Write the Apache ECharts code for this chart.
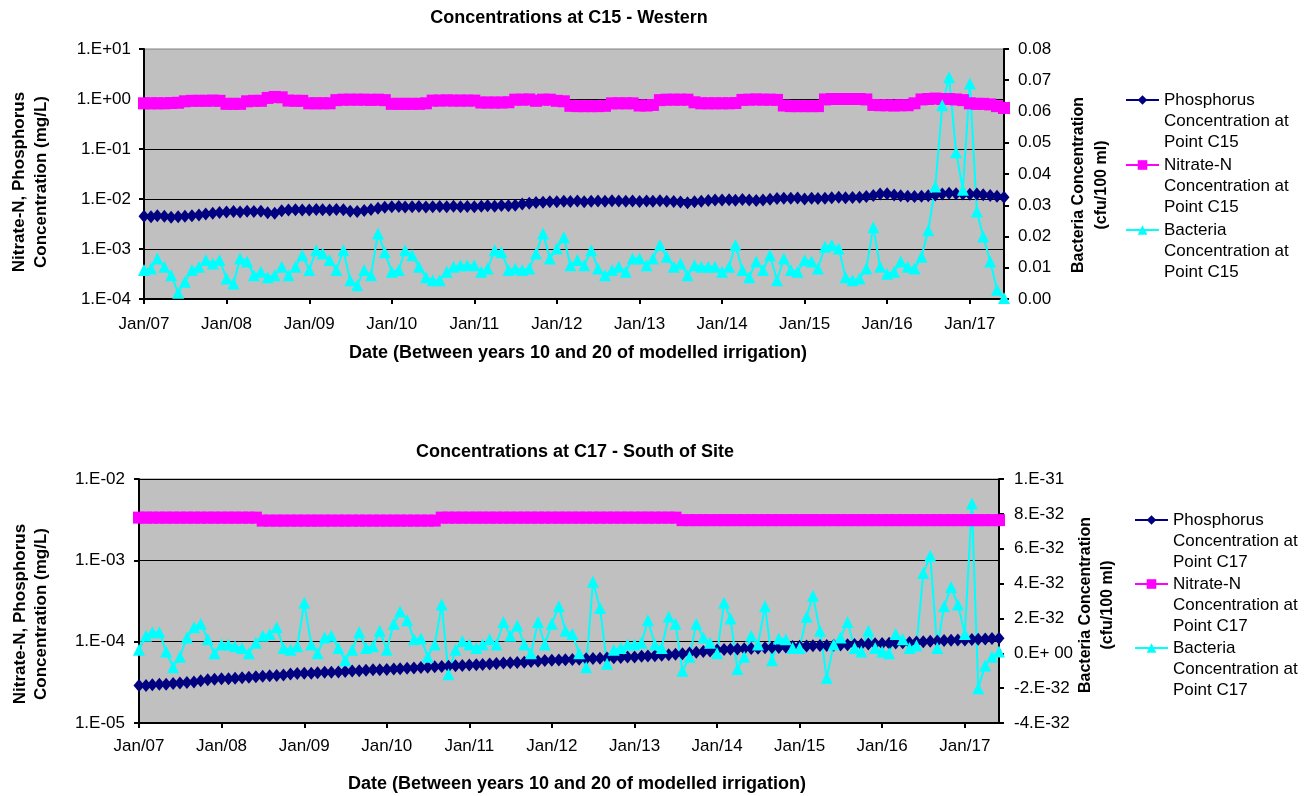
<!DOCTYPE html>
<html>
<head>
<meta charset="utf-8">
<title>Concentrations at C15 and C17</title>
<script src="https://cdn.jsdelivr.net/npm/echarts@6/dist/echarts.min.js"></script>
<style>
  html, body { margin: 0; background: #fff; }
  #chart { width: 1308px; height: 796px; }
</style>
</head>
<body>
<div id="chart"></div>
<script>
// monthly sample dates, Jan 2007 .. Jun 2017
const months = []
for (let y = 2007; y <= 2017; y++) {
  for (let m = 1; m <= 12; m++) {
    if (y === 2017 && m > 6) break
    months.push(y + '-' + String(m).padStart(2, '0') + '-01')
  }
}

// C15 - Western
// phosphorus, units of 1e-3 mg/L
const phosC15 = [
  4.5, 4.4, 4.6, 4.5, 4.3, 4.4, 4.5, 4.6, 4.8, 5.0, 5.2, 5.4,
  5.5, 5.6, 5.5, 5.7, 5.6, 5.7, 5.3, 5.2, 5.8, 6.0, 6.1, 6.0,
  6.0, 6.2, 6.1, 6.0, 6.2, 6.1, 5.7, 5.6, 5.9, 6.2, 6.5, 6.8,
  7.0, 7.1, 6.9, 7.0, 7.1, 6.9, 7.0, 7.1, 7.0, 7.2, 7.0, 7.1,
  7.0, 7.2, 7.3, 7.2, 7.4, 7.3, 7.5, 7.9, 8.2, 8.5, 8.6, 8.8,
  8.8, 9.0, 8.9, 9.1, 8.8, 9.0, 9.1, 9.0, 9.2, 9.1, 9.0, 9.1,
  8.9, 9.1, 9.0, 9.2, 9.0, 8.9, 8.7, 8.4, 8.8, 9.0, 9.3, 9.6,
  9.5, 9.7, 9.4, 9.8, 9.6, 9.3, 9.5, 9.9, 10.2, 10.4, 10.3, 10.5,
  10.0, 10.3, 10.2, 10.4, 10.6, 10.8, 10.6, 10.7, 10.9, 11.2, 11.8, 12.6,
  12.8, 12.0, 11.6, 11.4, 11.2, 11.4, 11.6, 12.0, 12.6, 13.0, 12.8, 12.6,
  12.4, 12.6, 12.2, 11.8, 11.3, 10.8
]
// nitrate-N, mg/L
const nitC15 = [
  0.82, 0.82, 0.82, 0.82, 0.83, 0.84, 0.90, 0.92, 0.92, 0.92, 0.93, 0.92,
  0.80, 0.80, 0.80, 0.90, 0.92, 0.92, 1.05, 1.10, 1.08, 0.93, 0.92, 0.92,
  0.82, 0.82, 0.82, 0.82, 0.95, 0.97, 0.97, 0.97, 0.97, 0.96, 0.97, 0.95,
  0.80, 0.80, 0.80, 0.80, 0.80, 0.82, 0.93, 0.93, 0.94, 0.93, 0.93, 0.93,
  0.93, 0.85, 0.85, 0.85, 0.85, 0.86, 0.97, 0.97, 0.98, 0.92, 0.97, 0.97,
  0.92, 0.90, 0.73, 0.72, 0.72, 0.72, 0.72, 0.73, 0.82, 0.82, 0.82, 0.82,
  0.74, 0.74, 0.76, 0.95, 0.97, 0.97, 0.97, 0.97, 0.86, 0.82, 0.82, 0.82,
  0.82, 0.82, 0.83, 0.96, 0.97, 0.98, 0.97, 0.97, 0.96, 0.74, 0.72, 0.72,
  0.72, 0.72, 0.72, 0.98, 1.00, 1.00, 1.00, 1.00, 1.00, 0.98, 0.76, 0.75,
  0.75, 0.74, 0.75, 0.75, 0.82, 0.98, 1.00, 1.02, 1.00, 1.00, 0.98, 0.95,
  0.82, 0.80, 0.80, 0.78, 0.72, 0.66
]
// bacteria, units of 1e-3 cfu/100 ml
const bactC15 = [
  9.3, 9.8, 13, 10.3, 7.6, 2.0, 5.5, 9.3, 10.3, 12.5, 11.4, 12.5,
  6.6, 5.0, 13, 12, 7.6, 8.7, 7.0, 7.6, 10.3, 7.6, 10.3, 14,
  9.3, 15.6, 14.6, 12.5, 9.3, 15.6, 6.0, 4.4, 9.3, 7.6, 21, 15,
  8.7, 9.3, 15.6, 14, 10.3, 7.0, 6.0, 6.0, 8.7, 10.3, 10.8, 10.8,
  10.8, 8.7, 9.8, 15.6, 15, 9.3, 9.8, 9.3, 9.8, 14.6, 21, 13,
  16.2, 19.8, 10.8, 12.5, 10.8, 15.6, 9.8, 7.6, 9.3, 10.3, 8.7, 13,
  13, 10.8, 13, 17.3, 13.5, 10.3, 11.4, 7.6, 10.8, 10.3, 10.3, 10.3,
  8.7, 10.3, 17.3, 9.3, 7.0, 12, 9.3, 14, 6.0, 13, 9.3, 8.7,
  12.5, 12, 9.8, 16.7, 17.3, 16.2, 7.0, 6.0, 6.6, 9.8, 23, 10.3,
  8.1, 8.7, 12, 10.3, 9.8, 13.5, 22, 36, 62, 71, 47, 35,
  69, 28, 20, 12, 3.0, 0.3
]

// C17 - South of Site
// phosphorus, units of 1e-5 mg/L
const phosC17 = [
  2.9, 2.9, 2.95, 3.0, 3.0, 3.05, 3.1, 3.15, 3.2, 3.3, 3.4, 3.45,
  3.5, 3.5, 3.55, 3.6, 3.65, 3.7, 3.75, 3.8, 3.85, 3.9, 4.0, 4.05,
  4.1, 4.1, 4.15, 4.2, 4.2, 4.25, 4.3, 4.35, 4.4, 4.45, 4.5, 4.5,
  4.55, 4.6, 4.65, 4.7, 4.75, 4.8, 4.85, 4.9, 4.95, 5.0, 5.05, 5.1,
  5.15, 5.2, 5.25, 5.3, 5.4, 5.45, 5.5, 5.55, 5.6, 5.7, 5.75, 5.85,
  5.9, 5.95, 6.0, 6.05, 6.1, 6.15, 6.2, 6.25, 6.3, 6.35, 6.4, 6.5,
  6.5, 6.6, 6.65, 6.7, 6.8, 6.9, 7.0, 7.1, 7.25, 7.4, 7.55, 7.7,
  7.9, 8.0, 8.05, 8.1, 8.2, 8.25, 8.3, 8.4, 8.45, 8.5, 8.6, 8.7,
  8.8, 8.85, 8.9, 8.95, 9.0, 9.05, 9.1, 9.15, 9.2, 9.3, 9.35, 9.4,
  9.5, 9.55, 9.6, 9.7, 9.8, 9.9, 10.0, 10.1, 10.2, 10.3, 10.4, 10.45,
  10.5, 10.6, 10.7, 10.8, 10.9, 11.0
]
// nitrate-N, units of 1e-3 mg/L
const nitC17 = [
  3.35, 3.35, 3.35, 3.35, 3.35, 3.35, 3.35, 3.35, 3.35, 3.35, 3.35, 3.35,
  3.35, 3.35, 3.35, 3.35, 3.35, 3.35, 3.08, 3.08, 3.08, 3.08, 3.08, 3.08,
  3.08, 3.08, 3.08, 3.08, 3.08, 3.08, 3.08, 3.08, 3.08, 3.08, 3.08, 3.08,
  3.08, 3.08, 3.08, 3.08, 3.08, 3.08, 3.08, 3.08, 3.35, 3.35, 3.35, 3.35,
  3.35, 3.35, 3.35, 3.35, 3.35, 3.35, 3.35, 3.35, 3.35, 3.35, 3.35, 3.35,
  3.35, 3.35, 3.35, 3.35, 3.35, 3.35, 3.35, 3.35, 3.35, 3.35, 3.35, 3.35,
  3.35, 3.35, 3.35, 3.35, 3.35, 3.35, 3.35, 3.12, 3.12, 3.12, 3.12, 3.12,
  3.12, 3.12, 3.12, 3.12, 3.12, 3.12, 3.12, 3.12, 3.12, 3.12, 3.12, 3.12,
  3.12, 3.12, 3.12, 3.12, 3.12, 3.12, 3.12, 3.12, 3.12, 3.12, 3.12, 3.12,
  3.12, 3.12, 3.12, 3.12, 3.12, 3.12, 3.12, 3.12, 3.12, 3.12, 3.12, 3.12,
  3.12, 3.12, 3.12, 3.12, 3.12, 3.12
]
// bacteria, units of 1e-32 cfu/100 ml
const bactC17 = [
  0.2, 1.0, 1.2, 1.2, 0.1, -0.8, -0.2, 0.9, 1.5, 1.7, 0.8, 0.0,
  0.5, 0.5, 0.4, 0.3, 0.0, 0.6, 1.0, 1.1, 1.5, 0.3, 0.2, 0.4,
  2.9, 0.5, 0.0, 0.9, 1.0, 0.3, -0.4, 0.2, 1.2, 0.3, 0.4, 1.3,
  0.2, 1.7, 2.4, 1.9, 0.8, 0.85, -0.2, 0.5, 2.8, -1.2, 0.2, 0.7,
  0.5, 0.3, 0.5, 0.8, 0.5, 1.8, 1.0, 1.6, 0.5, 0.0, 1.8, 0.5,
  1.7, 2.7, 1.3, 1.1, 0.0, -0.8, 4.1, 2.6, -0.6, 0.2, 0.3, 0.5,
  0.5, 0.6, 1.9, 0.5, 0.3, 2.1, 1.7, -1.0, -0.2, 1.7, 0.9, 0.6,
  0.0, 2.9, 2.0, -0.9, -0.2, 1.0, 0.5, 2.7, -0.4, 0.85, 0.8, 0.3,
  0.3, 2.1, 3.3, 1.3, -1.4, 0.5, 0.9, 1.8, 0.3, 0.1, 1.3, 0.3,
  0.1, 0.0, 1.1, 0.8, 0.3, 0.45, 4.6, 5.6, 0.3, 2.7, 3.8, 2.8,
  1.1, 8.6, -2.0, -0.7, -0.2, 0.1
]

const FONT = '"Liberation Sans", Arial, sans-serif'
const NAVY = '#000080'
const PINK = '#ff00ff'
const CYAN = '#00ffff'
const YEAR = 365 * 24 * 3600 * 1000

const pairs = (vals, scale) => months.map((d, i) => [d, vals[i] * scale])

const logLabel = (v) => {
  const e = Math.round(Math.log10(v))
  return '1.E' + (e < 0 ? '-' : '+') + String(Math.abs(e)).padStart(2, '0')
}
const c17Label = (v) => {
  const n = Math.round(v)
  if (n === 0) return '0.E+ 00'
  if (n === 10) return '1.E-31'
  return n + '.E-32'
}

const xAxisOf = (gridIndex, margin) => ({
  gridIndex,
  type: 'time',
  min: '2007-01-01',
  max: '2017-06-01',
  minInterval: YEAR,
  maxInterval: YEAR + 24 * 3600 * 1000,
  axisLine: { onZero: false, lineStyle: { color: '#000', width: 2 } },
  axisTick: { length: 5, lineStyle: { color: '#000', width: 2 } },
  axisLabel: {
    color: '#000',
    fontSize: 17,
    fontFamily: FONT,
    margin,
    showMaxLabel: false,
    formatter: (v) => 'Jan/' + String(new Date(v).getFullYear()).slice(2),
  },
  splitLine: { show: false },
})

const leftAxisOf = (gridIndex, min, max, splitNumber, margin) => ({
  gridIndex,
  type: 'log',
  logBase: 10,
  min,
  max,
  splitNumber,
  position: 'left',
  axisLine: { show: true, lineStyle: { color: '#000', width: 2 } },
  axisTick: { show: true, length: 5, lineStyle: { color: '#000', width: 2 } },
  axisLabel: { color: '#000', fontSize: 17, fontFamily: FONT, margin, formatter: logLabel },
  splitLine: { show: true, showMaxLine: false, lineStyle: { color: '#000', width: 1 } },
})

const rightAxisOf = (gridIndex, min, max, interval, margin, formatter) => ({
  gridIndex,
  type: 'value',
  min,
  max,
  interval,
  position: 'right',
  axisLine: { show: true, onZero: false, lineStyle: { color: '#000', width: 2 } },
  axisTick: { show: true, length: 5, lineStyle: { color: '#000', width: 2 } },
  axisLabel: { color: '#000', fontSize: 17, fontFamily: FONT, margin, formatter },
  splitLine: { show: false },
})

const lineOf = (name, xi, yi, data, color, symbol, symbolSize) => ({
  name,
  type: 'line',
  xAxisIndex: xi,
  yAxisIndex: yi,
  data,
  symbol,
  symbolSize,
  showSymbol: true,
  showAllSymbol: true,
  color,
  lineStyle: { color, width: 2 },
  itemStyle: { color },
  emphasis: { disabled: true },
})

const N = {
  p15: 'Phosphorus\nConcentration at\nPoint C15',
  n15: 'Nitrate-N\nConcentration at\nPoint C15',
  b15: 'Bacteria\nConcentration at\nPoint C15',
  p17: 'Phosphorus\nConcentration at\nPoint C17',
  n17: 'Nitrate-N\nConcentration at\nPoint C17',
  b17: 'Bacteria\nConcentration at\nPoint C17',
}

// two blank lines on top so the icon sits beside the first text line
const legendOf = (names, left, top, gap) => ({
  data: names,
  orient: 'vertical',
  left,
  top,
  padding: 0,
  itemGap: gap,
  itemWidth: 33,
  itemHeight: 12,
  selectedMode: false,
  formatter: (name) => '\n\n' + name,
  textStyle: { color: '#000', fontSize: 17, fontFamily: FONT, lineHeight: 21 },
})

const axisTitle = (x, y, text, rotate, size, lh) => ({
  type: 'text',
  x,
  y,
  rotation: rotate ? Math.PI / 2 : 0,
  style: {
    text,
    fill: '#000',
    font: 'bold ' + size + 'px ' + FONT,
    align: 'center',
    verticalAlign: 'middle',
    lineHeight: lh,
  },
})

const chart = echarts.init(document.getElementById('chart'))
chart.setOption({
  animation: false,
  backgroundColor: '#fff',
  title: [
    { text: 'Concentrations at C15 - Western', left: 569, top: 9, padding: 0, textAlign: 'center',
      textStyle: { fontSize: 18, fontWeight: 'bold', color: '#000', fontFamily: FONT } },
    { text: 'Concentrations at C17 - South of Site', left: 575, top: 443, padding: 0, textAlign: 'center',
      textStyle: { fontSize: 18, fontWeight: 'bold', color: '#000', fontFamily: FONT } },
  ],
  grid: [
    { left: 144, top: 49, width: 860, height: 250, show: true, backgroundColor: '#c0c0c0', borderColor: '#808080', borderWidth: 1 },
    { left: 139, top: 479, width: 860, height: 244, show: true, backgroundColor: '#c0c0c0', borderColor: '#808080', borderWidth: 1 },
  ],
  xAxis: [xAxisOf(0, 17), xAxisOf(1, 15)],
  yAxis: [
    leftAxisOf(0, 1e-4, 10, 5, 13),
    rightAxisOf(0, 0, 0.08, 0.01, 14, (v) => v.toFixed(2)),
    leftAxisOf(1, 1e-5, 1e-2, 3, 14),
    rightAxisOf(1, -4, 10, 2, 15, c17Label),
  ],
  legend: [
    legendOf([N.p15, N.n15, N.b15], 1125, 47.5, -40),
    legendOf([N.p17, N.n17, N.b17], 1134, 467.5, -41),
  ],
  graphic: [
    axisTitle(30, 182, 'Nitrate-N, Phosphorus\nConcentration (mg/L)', true, 17, 22),
    axisTitle(1090, 185, 'Bacteria Concentration\n(cfu/100 ml)', true, 16, 23),
    axisTitle(578, 353, 'Date (Between years 10 and 20 of modelled irrigation)', false, 18, 20),
    axisTitle(31, 614, 'Nitrate-N, Phosphorus\nConcentration (mg/L)', true, 17, 21),
    axisTitle(1097, 605, 'Bacteria Concentration\n(cfu/100 ml)', true, 16, 22),
    axisTitle(577, 784, 'Date (Between years 10 and 20 of modelled irrigation)', false, 18, 20),
  ],
  series: [
    lineOf(N.p15, 0, 0, pairs(phosC15, 1e-3), NAVY, 'diamond', [11, 13]),
    lineOf(N.n15, 0, 0, pairs(nitC15, 1), PINK, 'rect', 12),
    lineOf(N.b15, 0, 1, pairs(bactC15, 1e-3), CYAN, 'triangle', 12),
    lineOf(N.p17, 1, 2, pairs(phosC17, 1e-5), NAVY, 'diamond', [11, 13]),
    lineOf(N.n17, 1, 2, pairs(nitC17, 1e-3), PINK, 'rect', 12),
    lineOf(N.b17, 1, 3, pairs(bactC17, 1), CYAN, 'triangle', 12),
  ],
})
</script>
</body>
</html>
